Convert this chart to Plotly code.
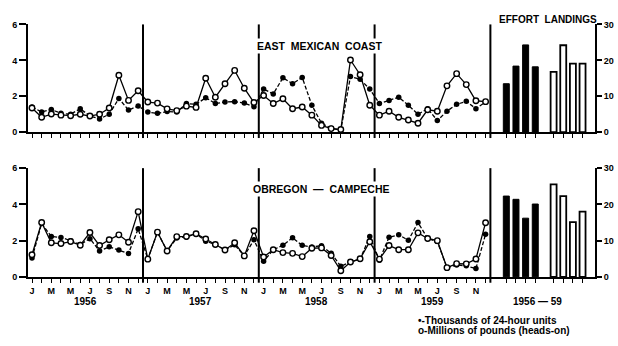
import plotly.graph_objects as go

# ---- data -------------------------------------------------------------
month_letters = ["J", "F", "M", "A", "M", "J", "J", "A", "S", "O", "N", "D"]
years = ["1956", "1957", "1958", "1959"]
bar_period = "1956 — 59"

# East Mexican Coast, monthly 1956-1959
east_effort = [
    1.40, 1.13, 1.26, 1.05, 1.00, 1.31, 0.90, 0.74, 1.00, 1.88, 1.23, 1.46,
    1.12, 1.05, 1.15, 1.12, 1.60, 1.55, 1.92, 1.60, 1.68, 1.70, 1.62, 1.42,
    2.40, 2.13, 3.03, 2.70, 3.05, 1.50, 0.50, 0.22, 0.12, 3.10, 2.95, 2.40,
    1.60, 1.77, 1.95, 1.50, 1.00, 1.31, 0.65, 1.17, 1.55, 1.72, 1.31, 1.68,
]
east_landings = [
    1.35, 0.83, 1.01, 0.95, 0.92, 1.00, 0.90, 1.00, 1.35, 3.17, 1.77, 2.31,
    1.68, 1.62, 1.30, 1.20, 1.45, 1.38, 3.00, 1.95, 2.70, 3.44, 2.45, 1.65,
    2.04, 1.60, 1.86, 1.31, 1.40, 0.95, 0.38, 0.20, 0.15, 4.02, 3.20, 1.50,
    0.95, 1.17, 0.83, 0.68, 0.50, 1.25, 1.17, 2.58, 3.26, 2.65, 1.75, 1.70,
]

# Obregon - Campeche, monthly 1956-1959
ob_effort = [
    1.04, 2.95, 2.23, 2.18, 2.00, 1.79, 2.11, 1.43, 1.66, 1.48, 1.29, 2.65,
    0.98, 2.47, 1.43, 2.15, 2.20, 2.38, 1.97, 1.79, 1.48, 1.77, 1.16, 2.05,
    0.86, 1.50, 1.74, 2.16, 1.74, 1.65, 1.72, 1.30, 0.59, 0.82, 0.98, 2.23,
    0.92, 2.19, 2.32, 2.02, 3.00, 2.12, 1.95, 0.51, 0.66, 0.61, 0.46, 2.35,
]
ob_landings = [
    1.22, 3.00, 1.88, 1.84, 1.95, 1.75, 2.45, 1.73, 2.05, 2.32, 1.91, 3.60,
    0.98, 2.47, 1.43, 2.22, 2.23, 2.38, 2.09, 1.79, 1.48, 1.88, 1.16, 2.55,
    1.10, 1.50, 1.34, 1.30, 1.12, 1.58, 1.60, 1.18, 0.34, 0.82, 1.00, 1.94,
    0.98, 1.73, 1.50, 1.50, 2.43, 2.12, 2.00, 0.51, 0.73, 0.72, 0.99, 2.99,
]

# Yearly totals 1956-1959 (right-hand scale)
east_bar_effort = [13.5, 18.4, 24.3, 18.2]
east_bar_landings = [16.8, 24.2, 19.1, 19.1]
ob_bar_effort = [22.3, 21.4, 16.2, 20.1]
ob_bar_landings = [25.5, 22.3, 15.1, 18.0]

legend_lines = ["•-Thousands of 24-hour units", "o-Millions of pounds (heads-on)"]

# ---- layout helpers ---------------------------------------------------
W, H = 618, 346
months = list(range(len(east_effort)))
eff_x = [49.15 + i for i in range(4)]
land_x = [54.05 + i for i in range(4)]
year_breaks = [11.5, 23.5, 35.5, 47.5]
X_RANGE = [-0.415, 58.34]
FONT = "Liberation Sans"


def py(pix):
    """pixel row -> paper fraction"""
    return 1 - pix / H


def px(pix):
    return pix / W


fig = go.Figure()

panels = [
    dict(eff=east_effort, land=east_landings, beff=east_bar_effort,
         bland=east_bar_landings, xa="x", ya="y", ya2="y2"),
    dict(eff=ob_effort, land=ob_landings, beff=ob_bar_effort,
         bland=ob_bar_landings, xa="x2", ya="y3", ya2="y4"),
]

for p in panels:
    fig.add_trace(go.Scatter(
        x=months, y=p["eff"], xaxis=p["xa"], yaxis=p["ya"], mode="lines+markers",
        line=dict(color="black", width=1.3, dash="4px,2px"),
        marker=dict(symbol="circle", size=5.5, color="black"),
        cliponaxis=False, showlegend=False))
    fig.add_trace(go.Scatter(
        x=months, y=p["land"], xaxis=p["xa"], yaxis=p["ya"], mode="lines+markers",
        line=dict(color="black", width=1.3),
        marker=dict(symbol="circle", size=5.5, color="white",
                    line=dict(color="black", width=1.4)),
        cliponaxis=False, showlegend=False))
    fig.add_trace(go.Bar(
        x=eff_x, y=p["beff"], xaxis=p["xa"], yaxis=p["ya2"], width=0.62,
        marker=dict(color="black", line=dict(color="black", width=1)),
        showlegend=False))
    fig.add_trace(go.Bar(
        x=land_x, y=p["bland"], xaxis=p["xa"], yaxis=p["ya2"], width=0.62,
        marker=dict(color="white", line=dict(color="black", width=1.8)),
        showlegend=False))

tickvals = months + eff_x + land_x
month_text = [month_letters[m % 12] if m % 2 == 0 else "" for m in months]
ticktext = month_text + [""] * 8

x_common = dict(range=X_RANGE, domain=[px(28), px(595)], showgrid=False,
                zeroline=False, showline=True, linecolor="black", linewidth=2,
                ticks="outside", ticklen=4, tickwidth=1.3, tickcolor="black",
                tickvals=tickvals, fixedrange=True)
yl_common = dict(range=[0, 6], tickvals=[0, 2, 4, 6], showgrid=False,
                 zeroline=False, showline=True, linecolor="black", linewidth=2,
                 ticks="outside", ticklen=7, tickwidth=2, tickcolor="black",
                 tickfont=dict(size=9, family=FONT, color="black", weight="bold"))
yr_common = dict(range=[0, 30], tickvals=[0, 10, 20, 30], showgrid=False,
                 zeroline=False, showline=True, linecolor="black", linewidth=2,
                 ticks="outside", ticklen=5, tickwidth=2, tickcolor="black",
                 side="right",
                 tickfont=dict(size=9, family=FONT, color="black", weight="bold"))

top_dom = [py(131), py(20)]
bot_dom = [py(280), py(168)]

fig.update_layout(
    width=W, height=H, margin=dict(l=0, r=0, t=0, b=0),
    paper_bgcolor="white", plot_bgcolor="white", barmode="overlay",
    font=dict(family=FONT, color="black", weight="bold"),
    xaxis=dict(**x_common, anchor="y", showticklabels=False),
    xaxis2=dict(**x_common, anchor="y3", ticktext=ticktext,
                tickfont=dict(size=9, family=FONT, color="black", weight="bold"),
                tickangle=0),
    yaxis=dict(**yl_common, domain=top_dom, anchor="x"),
    yaxis2=dict(**yr_common, domain=top_dom, anchor="x", overlaying="y"),
    yaxis3=dict(**yl_common, domain=bot_dom, anchor="x2"),
    yaxis4=dict(**yr_common, domain=bot_dom, anchor="x2", overlaying="y3"),
)

# year separators
shapes = []
for xb in year_breaks:
    shapes.append(dict(type="line", xref="x", yref="paper", x0=xb, x1=xb,
                       y0=py(137), y1=py(20), line=dict(color="black", width=2)))
    shapes.append(dict(type="line", xref="x2", yref="paper", x0=xb, x1=xb,
                       y0=py(286), y1=py(168), line=dict(color="black", width=2)))
fig.update_layout(shapes=shapes)

ann = []


def text(s, x, y, size, xanchor="center", bg=None):
    d = dict(text=s, x=px(x), y=py(y), xref="paper", yref="paper",
             xanchor=xanchor, yanchor="middle", showarrow=False,
             font=dict(size=size, family=FONT, color="black", weight="bold"))
    if bg:
        d.update(bgcolor=bg, borderpad=1)
    ann.append(d)


text("EAST  MEXICAN  COAST", 319, 42, 10.5, bg="white")
text("OBREGON  —  CAMPECHE", 321, 189, 10.5, bg="white")
text("EFFORT  LANDINGS", 548, 15, 10)

for i, yr in enumerate(years):
    text(yr, 85 + i * 115.8, 305, 10)
text(bar_period, 537, 305, 10)

text(legend_lines[0], 416, 325, 10, xanchor="left")
text(legend_lines[1], 416, 335, 10, xanchor="left")

fig.update_layout(annotations=ann)

fig.write_html("out.html")
